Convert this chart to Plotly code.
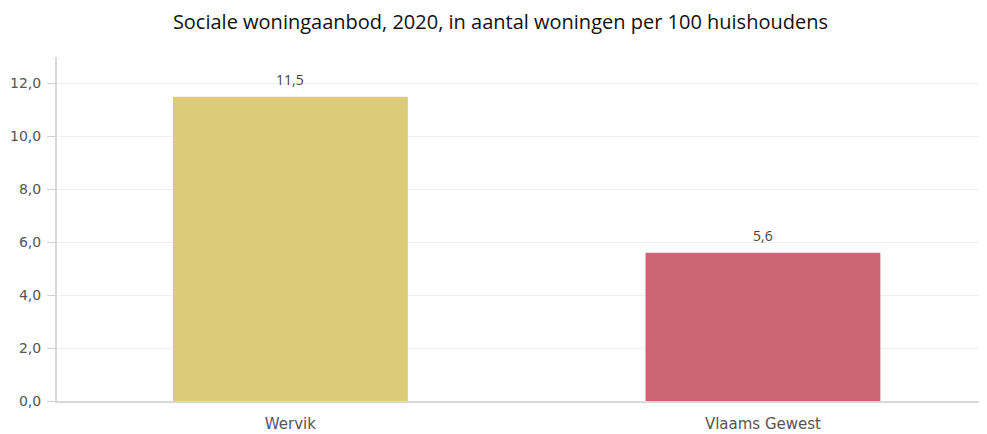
import plotly.graph_objects as go

categories = ["Wervik", "Vlaams Gewest"]
values = [11.5, 5.6]
colors = ["#DCCB78", "#CC6674"]
labels = ["11,5", "5,6"]
tick_vals = [0, 2, 4, 6, 8, 10, 12]
tick_text = ["0,0", "2,0", "4,0", "6,0", "8,0", "10,0", "12,0"]

fig = go.Figure(go.Bar(
    x=[0, 1], y=values, marker=dict(color=colors, line=dict(width=0)),
    width=0.497, cliponaxis=False,
))
for i, (v, t) in enumerate(zip(values, labels)):
    fig.add_annotation(x=i, y=v, text=t, showarrow=False, yshift=17, yanchor="middle",
                       font=dict(family="Open Sans", size=14, color="#444"))
fig.update_layout(
    width=979, height=426, plot_bgcolor="white", paper_bgcolor="white",
    margin=dict(l=49, r=2, t=48.5, b=33, autoexpand=False), showlegend=False,
    title=dict(text="Sociale woningaanbod, 2020, in aantal woningen per 100 huishoudens",
               x=0.503, xanchor="center", y=0.966, yanchor="middle",
               font=dict(family="Open Sans", size=20, color="#111")),
)
fig.update_xaxes(range=[-0.494, 1.47], tickmode="array", tickvals=[0, 1], ticktext=categories,
                 showgrid=False, showline=True, linecolor="#d8d8d8", linewidth=2,
                 tickfont=dict(family="DejaVu Sans", size=15, color="#555"), ticks="", zeroline=False,
                 ticklabelstandoff=8, automargin=False)
fig.update_yaxes(range=[0, 13], tickmode="array", tickvals=tick_vals, ticktext=tick_text,
                 showgrid=True, gridcolor="#efefef", gridwidth=1, showline=True, linecolor="#d8d8d8",
                 linewidth=2, ticks="outside", ticklen=8, tickcolor="#d0d0d0",
                 tickfont=dict(family="DejaVu Sans", size=14, color="#555"), zeroline=False,
                 ticklabelstandoff=3, automargin=False)
fig.write_html("out.html")
